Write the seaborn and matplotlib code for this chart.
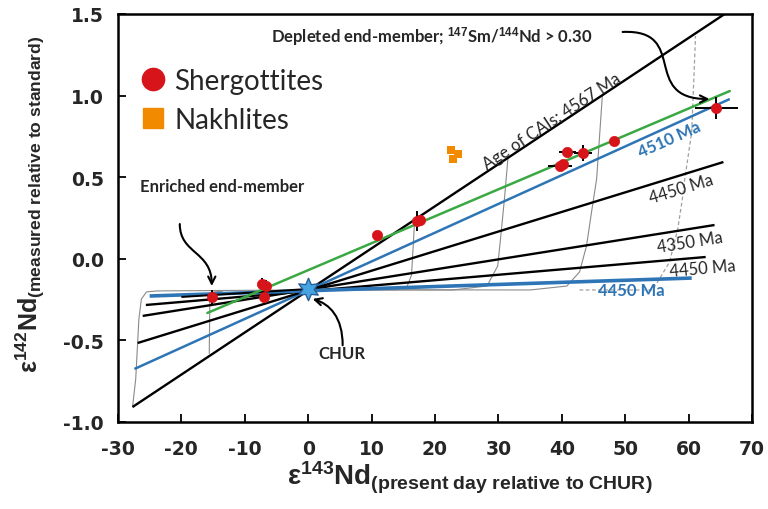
import numpy as np
import pandas as pd
import matplotlib
matplotlib.use('Agg')
import matplotlib.pyplot as plt
import seaborn as sns
from matplotlib.lines import Line2D
from matplotlib.patches import FancyArrowPatch
from matplotlib.path import Path

# ── Data ───────────────────────────────────────────────────────────────────
# Shergottites: eps143Nd vs eps142Nd with error bars
sherg_x = [-15.2, -7.3, -6.6, -7.0, 10.8, 17.1, 17.6, 39.7, 40.2, 40.9, 43.3, 48.2, 64.4]
sherg_y = [-0.234, -0.154, -0.165, -0.234, 0.146, 0.232, 0.238, 0.569, 0.580, 0.657, 0.648, 0.722, 0.924]
sherg_xerr = [0, 0, 0, 0, 0, 0, 0, 1.9, 0, 1.4, 1.4, 0, 3.4]
sherg_yerr = [0.04, 0.035, 0.035, 0, 0, 0.06, 0, 0, 0, 0, 0.05, 0, 0.065]

# Nakhlites
nakh_x = [22.5, 23.6, 22.9]
nakh_y = [0.667, 0.642, 0.611]

# CHUR
chur_x = [0.0]
chur_y = [-0.185]

# isochron lines through CHUR (end points)
iso_names = ['4567 Ma', '4510 Ma', '4450 Ma', '4350 Ma', '4450 Ma b', '4450 Ma blue', 'short']
iso_x0 = [-27.7, -27.4, -26.9, -26.1, -25.6, -25.0, -20.0]
iso_y0 = [-0.908, -0.675, -0.516, -0.350, -0.283, -0.228, -0.234]
iso_x1 = [65.7, 66.5, 65.5, 64.1, 62.7, 60.5, 0.0]
iso_y1 = [1.500, 0.979, 0.593, 0.207, 0.011, -0.118, -0.185]

# regression through shergottites (green)
reg_x = [-15.9, 66.5]
reg_y = [-0.332, 1.028]

# thin grey evolution curves
evo1_x = [-27.7, -27.2, -26.7, -26.3, -25.5, -23.9, -1.3]
evo1_y = [-0.908, -0.737, -0.369, -0.246, -0.203, -0.197, -0.191]
evo2_x = [-15.6, -15.5, -15.2, -13.5]
evo2_y = [-0.580, -0.230, -0.205, -0.198]
evo3_x = [1.0, 14.0, 15.6, 16.3, 16.6, 16.8]
evo3_y = [-0.190, -0.190, -0.170, -0.100, 0.100, 0.240]
evo4_x = [1.0, 22.8, 28.2, 29.9, 30.5, 31.0, 31.5]
evo4_y = [-0.190, -0.191, -0.167, -0.044, 0.183, 0.385, 0.611]
evo5_x = [1.0, 35.0, 40.8, 42.8, 43.9, 44.7, 45.5, 46.4]
evo5_y = [-0.190, -0.191, -0.167, -0.081, 0.078, 0.287, 0.489, 0.998]
evo6_x = [42.8, 54.3, 55.4, 57.0, 58.3, 59.1, 59.4, 60.5, 61.1]
evo6_y = [-0.191, -0.191, -0.124, -0.020, 0.183, 0.385, 0.489, 0.777, 1.365]

# ── Style ──────────────────────────────────────────────────────────────────
sns.set_theme(style='ticks')
plt.rcParams['font.family'] = ['Lato', 'DejaVu Sans']
plt.rcParams['axes.unicode_minus'] = False
plt.rcParams['mathtext.fontset'] = 'custom'
plt.rcParams['mathtext.rm'] = 'Liberation Sans'
plt.rcParams['mathtext.bf'] = 'Liberation Sans:bold'
plt.rcParams['mathtext.it'] = 'Liberation Sans:italic'

RED = '#d7141a'
ORANGE = '#f28a00'
BLUE = '#2e75b6'
GREEN = '#3aa843'
GREY = '#8a8a8a'

iso_colors = ['black', BLUE, 'black', 'black', 'black', BLUE, 'black']
iso_widths = [1.7, 1.8, 1.7, 1.7, 1.7, 2.6, 1.4]

fig = plt.figure(figsize=(7.68, 5.1), dpi=100)
ax = fig.add_axes([0.1536, 0.1706, 0.8255, 0.8000])

# grey evolution curves
for ex, ey in [(evo1_x, evo1_y), (evo2_x, evo2_y), (evo3_x, evo3_y),
               (evo4_x, evo4_y), (evo5_x, evo5_y)]:
    ax.plot(ex, ey, color=GREY, lw=0.8, zorder=1)
ax.plot(evo6_x, evo6_y, color='#a0a0a0', lw=0.9, ls=(0, (3, 2)), zorder=1)

# isochrons
for i in range(len(iso_names)):
    ax.plot([iso_x0[i], iso_x1[i]], [iso_y0[i], iso_y1[i]],
            color=iso_colors[i], lw=iso_widths[i], zorder=2, solid_capstyle='butt')

# regression line
ax.plot(reg_x, reg_y, color=GREEN, lw=1.8, zorder=3)

# error bars + points
ax.errorbar(sherg_x, sherg_y, xerr=sherg_xerr, yerr=sherg_yerr, fmt='none',
            ecolor='black', elinewidth=1.4, capsize=0, zorder=4)
sherg_df = pd.DataFrame({'x': sherg_x, 'y': sherg_y})
sns.scatterplot(data=sherg_df, x='x', y='y', ax=ax, color=RED, s=55,
                edgecolor=RED, linewidth=0.5, marker='o', zorder=5, legend=False)
nakh_df = pd.DataFrame({'x': nakh_x, 'y': nakh_y})
sns.scatterplot(data=nakh_df, x='x', y='y', ax=ax, color=ORANGE, s=36,
                edgecolor=ORANGE, linewidth=0, marker='s', zorder=5, legend=False)

# CHUR star
ax.scatter(chur_x, chur_y, marker=(6, 1, 0), s=260, color='#45a5e3',
           edgecolor='#2b5f99', linewidth=1.0, zorder=6)

# ── Axes ───────────────────────────────────────────────────────────────────
ax.set_xlim(-30, 70)
ax.set_ylim(-1.0, 1.5)
ax.set_xticks(np.arange(-30, 71, 10))
ax.set_yticks(np.arange(-1.0, 1.51, 0.5))
ax.set_yticklabels([f'{v:.1f}' for v in np.arange(-1.0, 1.51, 0.5)])
for sp in ax.spines.values():
    sp.set_visible(True)
    sp.set_linewidth(1.8)
    sp.set_color('black')
ax.tick_params(axis='both', direction='in', length=6, width=1.3, color='black')
ax.tick_params(axis='x', pad=12)
ax.tick_params(axis='y', pad=10)
for lab in ax.get_xticklabels() + ax.get_yticklabels():
    lab.set_fontfamily('DejaVu Sans')
    lab.set_fontweight('bold')
    lab.set_fontsize(13.5)

ax.set_xlabel('ε$^{\\mathbf{143}}$Nd$_{\\mathbf{(present\\ day\\ relative\\ to\\ CHUR)}}$',
              fontfamily='Liberation Sans', fontweight='bold', fontsize=20)
ax.set_ylabel('ε$^{\\mathbf{142}}$Nd$_{\\mathbf{(measured\\ relative\\ to\\ standard)}}$',
              fontfamily='Liberation Sans', fontweight='bold', fontsize=18)
ax.xaxis.set_label_coords(0.555, -0.09)
ax.yaxis.set_label_coords(-0.112, 0.537)

# ── Legend ─────────────────────────────────────────────────────────────────
handles = [Line2D([], [], marker='o', ls='none', color=RED, markersize=16),
           Line2D([], [], marker='s', ls='none', color=ORANGE, markersize=15)]
ax.legend(handles, ['Shergottites', 'Nakhlites'], loc='upper left',
          bbox_to_anchor=(0.034, 0.868), frameon=False, borderpad=0, borderaxespad=0,
          handlelength=0.95, handletextpad=0.3, labelspacing=0.48,
          prop={'family': 'Lato', 'size': 20})

# ── Annotations ────────────────────────────────────────────────────────────
ax.text(38.4, 0.844, 'Age of CAIs; 4567 Ma', rotation=33.5, ha='center', va='center',
        fontsize=12, rotation_mode='anchor')
ax.text(57.0, 0.734, '4510 Ma', rotation=24, ha='center', va='center', color=BLUE,
        fontsize=12, fontweight='bold', rotation_mode='anchor')
ax.text(58.8, 0.428, '4450 Ma', rotation=17, ha='center', va='center', fontsize=12,
        rotation_mode='anchor')
ax.text(60.2, 0.103, '4350 Ma', rotation=9, ha='center', va='center', fontsize=12,
        rotation_mode='anchor')
ax.text(62.2, -0.056, '4450 Ma', rotation=5, ha='center', va='center', fontsize=12,
        rotation_mode='anchor')
ax.text(50.9, -0.191, '4450 Ma', ha='center', va='center', color=BLUE, fontsize=12,
        fontweight='bold')

ax.text(19.5, 1.365, 'Depleted end-member; $^{\\mathbf{147}}$Sm/$^{\\mathbf{144}}$Nd > 0.30',
        ha='center', va='center', fontsize=12, fontweight='bold')
ax.text(-26.6, 0.446, 'Enriched end-member', ha='left', va='center', fontsize=12,
        fontweight='bold')
ax.text(5.3, -0.577, 'CHUR', ha='center', va='center', fontsize=12, fontweight='bold')

# curved pointer arrows (cubic Bezier paths: start, two control points, tip)
arrow_paths = [
    [(49.6, 1.390), (60.2, 1.408), (52.3, 0.979), (63.3, 0.979)],     # depleted
    [(-20.25, 0.213), (-20.25, 0.029), (-15.2, 0.048), (-15.2, -0.167)],  # enriched
    [(5.44, -0.530), (5.44, -0.357), (3.39, -0.277), (0.71, -0.246)],  # CHUR
]
for verts in arrow_paths:
    p = Path(verts, [Path.MOVETO, Path.CURVE4, Path.CURVE4, Path.CURVE4])
    ax.add_patch(FancyArrowPatch(path=p, arrowstyle='->', mutation_scale=13,
                                 lw=1.5, color='black', zorder=7))

fig.savefig('out.png', dpi=100)
